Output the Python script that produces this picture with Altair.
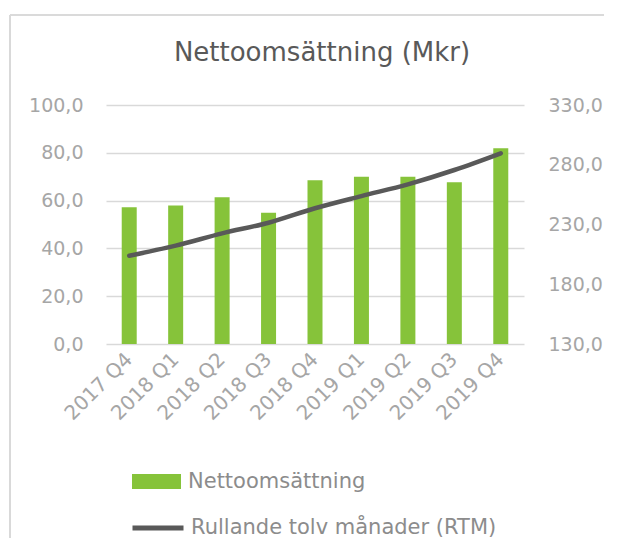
import altair as alt
import pandas as pd

quarters = ["2017 Q4", "2018 Q1", "2018 Q2", "2018 Q3", "2018 Q4",
            "2019 Q1", "2019 Q2", "2019 Q3", "2019 Q4"]
nettoomsattning = [57.2, 58.0, 61.4, 54.9, 68.5, 70.0, 70.0, 67.7, 81.9]
rtm = [203.9, 212.3, 222.6, 231.5, 243.6, 253.8, 263.6, 275.6, 289.6]
left_ticks = [0, 20, 40, 60, 80, 100]
right_ticks = [130, 180, 230, 280, 330]

df = pd.DataFrame({
    "q": quarters,
    "netto": nettoomsattning,
    "rtm": rtm,
    "s1": ["Nettoomsättning"] * len(quarters),
    "s2": ["Rullande tolv månader (RTM)"] * len(quarters),
})

FONT = "DejaVu Sans"
LABEL = "#a6a6a6"
GRID = "#d9d9d9"
GREEN = "#86c33a"
DARK = "#595959"

fmt = "replace(format(datum.value, '.1f'), '.', ',')"

xenc = alt.X("q:N", sort=quarters, title=None,
             scale=alt.Scale(paddingInner=0, paddingOuter=0),
             axis=alt.Axis(labelAngle=-45, labelAlign="right", labelBaseline="middle",
                           labelFont=FONT, labelFontSize=20, labelColor=LABEL,
                           domain=False, ticks=False, labelPadding=12))

bars = alt.Chart(df).mark_bar(size=15).encode(
    x=xenc,
    y=alt.Y("netto:Q", title=None,
            scale=alt.Scale(domain=[0, 100], nice=False),
            axis=alt.Axis(values=left_ticks, labelExpr=fmt, labelFont=FONT,
                          labelFontSize=19, labelColor=LABEL, domain=False,
                          ticks=False, labelPadding=23, gridColor=GRID,
                          gridWidth=1.3)),
    fill=alt.Fill("s1:N", title=None,
                  scale=alt.Scale(domain=["Nettoomsättning"], range=[GREEN]),
                  legend=alt.Legend(orient="none", legendX=26, legendY=352,
                                    symbolType="M-1,-0.306H1V0.306H-1Z",
                                    symbolSize=2401, symbolStrokeWidth=0,
                                    labelFont=FONT, labelFontSize=21,
                                    labelColor="#8c8c8c", labelOffset=7,
                                    padding=0, labelLimit=400)),
)

line = alt.Chart(df).mark_line(strokeWidth=4.5, interpolate="monotone",
                                strokeCap="round").encode(
    x=alt.X("q:N", sort=quarters),
    y=alt.Y("rtm:Q", title=None,
            scale=alt.Scale(domain=[130, 330], nice=False),
            axis=alt.Axis(orient="right", values=right_ticks, labelExpr=fmt,
                          labelFont=FONT, labelFontSize=19, labelColor=LABEL,
                          domain=False, ticks=False, grid=False, labelPadding=24)),
    stroke=alt.Stroke("s2:N", title=None,
                      scale=alt.Scale(domain=["Rullande tolv månader (RTM)"], range=[DARK]),
                      legend=alt.Legend(orient="none", legendX=24, legendY=395,
                                        symbolType="stroke", symbolSize=2601,
                                        symbolStrokeWidth=5,
                                        labelFont=FONT, labelFontSize=21,
                                        labelColor="#8c8c8c", labelOffset=5,
                                        padding=0, labelLimit=400)),
)

frame_left = alt.Chart(df).mark_rule(color=GRID, strokeWidth=1.2).encode(
    x=alt.value(-96), x2=alt.value(-96), y=alt.value(-90), y2=alt.value(460))
frame_top = alt.Chart(df).mark_rule(color=GRID, strokeWidth=1.2).encode(
    x=alt.value(-96), x2=alt.value(520), y=alt.value(-90), y2=alt.value(-90))

chart = alt.layer(bars, line, frame_left, frame_top).resolve_scale(
    y="independent", fill="independent", stroke="independent"
).properties(
    width=418, height=239,
    autosize=alt.AutoSizeParams(type="none"),
    padding={"left": 98, "top": 97, "right": 80, "bottom": 194},
    title=alt.TitleParams("Nettoomsättning (Mkr)", font=FONT, fontSize=26,
                          fontWeight="normal", color=DARK, anchor="middle",
                          baseline="alphabetic", offset=0, dy=73, dx=7),
).configure_view(stroke=None)

chart.save("out.html", embed_options={"renderer": "svg", "actions": False})
